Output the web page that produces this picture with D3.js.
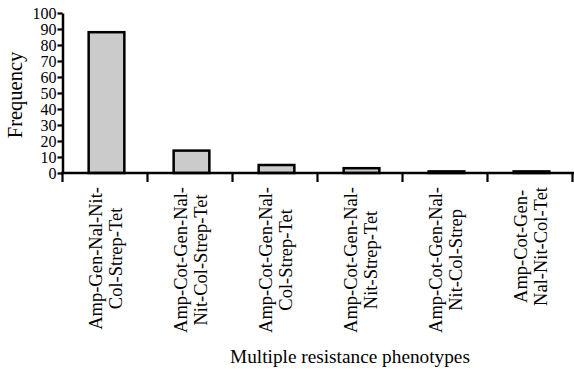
<!DOCTYPE html>
<html lang="en">
<head>
<meta charset="UTF-8">
<title>Multiple resistance phenotypes</title>
<script src="https://cdn.jsdelivr.net/npm/d3@7/dist/d3.min.js"></script>
<style>
  html, body { margin: 0; padding: 0; background: #fff; }
  svg { display: block; font-family: "Liberation Serif", "DejaVu Serif", serif; }
</style>
</head>
<body>
<svg width="574" height="369"></svg>
<script>
// data
var categories = [
    ["Amp-Gen-Nal-Nit-", "Col-Strep-Tet"],
    ["Amp-Cot-Gen-Nal-", "Nit-Col-Strep-Tet"],
    ["Amp-Cot-Gen-Nal-", "Col-Strep-Tet"],
    ["Amp-Cot-Gen-Nal-", "Nit-Strep-Tet"],
    ["Amp-Cot-Gen-Nal-", "Nit-Col-Strep"],
    ["Amp-Cot-Gen-", "Nal-Nit-Col-Tet"]
];
var values = [88, 14, 5, 3, 1, 1];
var yTicks = [0, 10, 20, 30, 40, 50, 60, 70, 80, 90, 100];
var yTitle = "Frequency";
var xTitle = "Multiple resistance phenotypes";

var svg = d3.select("svg"),
    plotLeft = 63, plotRight = 573, plotTop = 13, plotBase = 173;

var idx = d3.range(categories.length);

var x = d3.scaleBand()
    .domain(idx)
    .range([plotLeft, plotRight])
    .paddingInner(0.58)
    .paddingOuter(0.29);

var y = d3.scaleLinear()
    .domain([0, 100])
    .range([plotBase, plotTop]);

// bars
svg.append("g")
    .selectAll("rect")
    .data(idx)
    .enter().append("rect")
    .attr("x", function (i) { return x(i) + 1; })
    .attr("y", function (i) { return y(values[i]); })
    .attr("width", x.bandwidth())
    .attr("height", function (i) { return plotBase - y(values[i]); })
    .attr("fill", "#cbcbcb")
    .attr("stroke", "#000")
    .attr("stroke-width", 2.5);

// y axis
var yAxis = svg.append("g")
    .attr("transform", "translate(" + (plotLeft - 0.5) + ",0)")
    .call(d3.axisLeft(y).tickValues(yTicks).tickSize(5).tickSizeOuter(0).tickPadding(1));
yAxis.select(".domain").attr("stroke-width", 2.5);
yAxis.selectAll(".tick line").attr("stroke-width", 2.2);
yAxis.selectAll(".tick text")
    .attr("font-family", "Liberation Serif")
    .attr("font-size", 16)
    .attr("fill", "#000");

// x axis: line with ticks at band boundaries
var bounds = d3.range(categories.length + 1).map(function (i) { return plotLeft + i * x.step(); });
var xAxis = svg.append("g");
xAxis.append("line")
    .attr("x1", plotLeft - 1.7).attr("x2", plotRight + 1)
    .attr("y1", plotBase).attr("y2", plotBase)
    .attr("stroke", "#000").attr("stroke-width", 2.5);
xAxis.selectAll(".xt")
    .data(bounds)
    .enter().append("line")
    .attr("class", "xt")
    .attr("x1", function (d) { return d - 0.5; }).attr("x2", function (d) { return d - 0.5; })
    .attr("y1", plotBase).attr("y2", plotBase + 9)
    .attr("stroke", "#000").attr("stroke-width", 2.2);

// category labels, rotated, lines centred on the longest one
var labels = svg.append("g")
    .attr("font-size", 18.5)
    .attr("fill", "#000")
    .selectAll("g")
    .data(idx)
    .enter().append("g")
    .attr("transform", function (i) {
        return "translate(" + (x(i) + x.bandwidth() / 2) + "," + (plotBase + 14) + ") rotate(-90)";
    });

labels.each(function (i) {
    var g = d3.select(this);
    var lines = categories[i];
    var texts = lines.map(function (s, k) {
        return g.append("text")
            .attr("y", -4 + k * 20.5)
            .attr("text-anchor", "middle")
            .text(s);
    });
    var w = d3.max(texts, function (t) { return t.node().getComputedTextLength(); });
    texts.forEach(function (t) { t.attr("x", -w / 2); });
});

// axis titles
svg.append("text")
    .attr("transform", "translate(22,95) rotate(-90)")
    .attr("text-anchor", "middle")
    .attr("font-size", 20.5)
    .text(yTitle);

svg.append("text")
    .attr("x", 350)
    .attr("y", 363)
    .attr("text-anchor", "middle")
    .attr("font-size", 19.3)
    .text(xTitle);
</script>
</body>
</html>
